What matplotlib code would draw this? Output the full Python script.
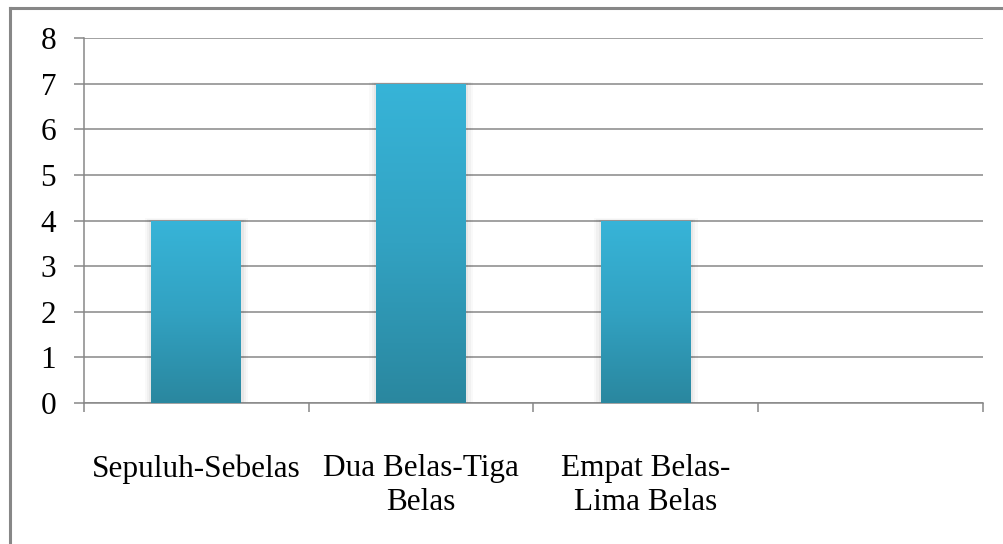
import matplotlib.pyplot as plt
import numpy as np
from matplotlib.colors import LinearSegmentedColormap
from matplotlib.lines import Line2D

plt.rcParams['font.family'] = ['Liberation Serif', 'DejaVu Serif']

# data
categories = ['Sepuluh-Sebelas', 'Dua Belas-Tiga\nBelas', 'Empat Belas-\nLima Belas', '']
values = [4, 7, 4, 0]
yticks = [0, 1, 2, 3, 4, 5, 6, 7, 8]

grid_col = '#878787'
cmap = LinearSegmentedColormap.from_list('bar', ['#2a879f', '#32a2c2', '#37b4d8'])

fig = plt.figure(figsize=(10.04, 5.44), dpi=100, facecolor='white')
ax = fig.add_axes([84 / 1004, 1 - 403 / 544, (983 - 84) / 1004, (403 - 38) / 544])

x = np.arange(len(categories))
bars = ax.bar(x, values, width=0.4, color='#37b4d8', zorder=3)

# gradient fill + faint shadow
grad = np.linspace(0, 1, 256).reshape(-1, 1)
for b, v in zip(bars, values):
    if v == 0:
        b.set_visible(False)
        continue
    x0, w, h = b.get_x(), b.get_width(), b.get_height()
    for k, a in [(0.03, 0.025), (0.02, 0.03), (0.01, 0.04)]:
        ax.add_patch(plt.Rectangle((x0 - k, 0), w + 2 * k, h + k * 1.5,
                                   facecolor='black', alpha=a, lw=0, zorder=2))
    im = ax.imshow(grad, cmap=cmap, aspect='auto', origin='lower',
                   extent=(x0, x0 + w, 0, h), zorder=4)
    im.set_clip_path(b)

ax.set_xlim(-0.5, len(categories) - 0.5)
ax.set_ylim(0, 8)
ax.set_yticks(yticks)
ax.set_yticklabels([str(t) for t in yticks], fontsize=22.5)
ax.yaxis.grid(True, color=grid_col, lw=1.1, zorder=1)
ax.set_axisbelow(True)

ax.set_xticks(x)
ax.set_xticklabels(categories, fontsize=22.5, linespacing=1.2)
ax.tick_params(axis='x', length=0, pad=37)
ax.set_xticks(np.arange(len(categories) + 1) - 0.5, minor=True)
ax.tick_params(axis='x', which='minor', length=6.5, color=grid_col, width=1.1)
ax.tick_params(axis='y', length=7, color=grid_col, width=1.1, pad=13)

for s in ['top', 'right']:
    ax.spines[s].set_visible(False)
ax.spines['left'].set_color(grid_col)
ax.spines['bottom'].set_color(grid_col)
ax.spines['left'].set_linewidth(1.1)
ax.spines['bottom'].set_linewidth(1.1)

# outer chart frame (top and left edge visible)
fig.add_artist(Line2D([10 / 1004, 1.0], [1 - 8 / 544] * 2, color='#878787', lw=2.2,
                      transform=fig.transFigure))
fig.add_artist(Line2D([10 / 1004] * 2, [0, 1 - 8 / 544], color='#878787', lw=2.2,
                      transform=fig.transFigure))

fig.savefig('out.png', dpi=100, facecolor='white')
